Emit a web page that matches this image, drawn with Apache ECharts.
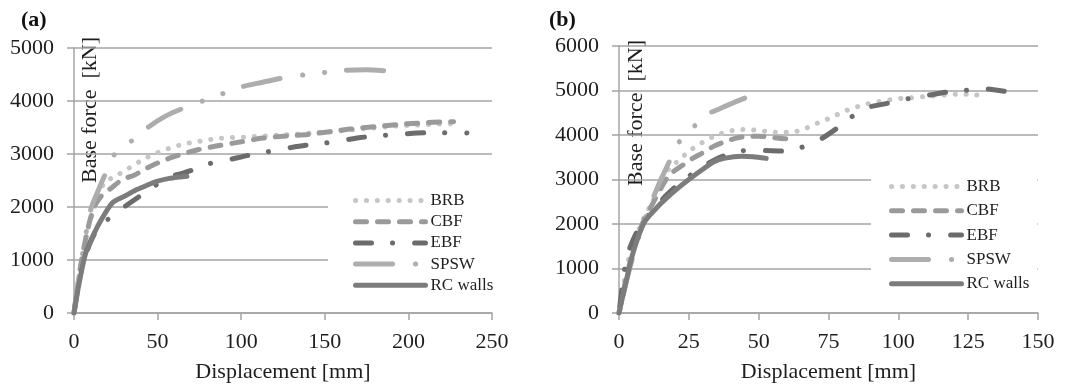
<!DOCTYPE html>
<html><head><meta charset="utf-8">
<script src="https://cdn.jsdelivr.net/npm/echarts@6/dist/echarts.min.js"></script>
<style>html,body{margin:0;padding:0;background:#fff}#c{width:1071px;height:386px}</style>
</head><body><div id="c"></div>
<script>
// ---------- Chart (a) ----------
const seriesNames = ['BRB', 'CBF', 'EBF', 'SPSW', 'RC walls'];
const a_BRB_x = [0,4,8,13,18,25.8,31.2,36.8,42.8,48.8,54.1,60.1,66.3,73.3,79.6,86.6,93.6,99.6,125,150,177,191,205,218,225];
const a_BRB_y = [0,800,1550,2050,2450,2600,2700,2810,2920,3010,3075,3140,3190,3230,3265,3295,3308,3315,3360,3415,3485,3525,3545,3565,3570];
const a_CBF_x = [0,4,8,12,17,22,29,36,44,50,58,66,74,85,100,113,127,140,153,165,180,195,210,220,227];
const a_CBF_y = [0,900,1550,2000,2230,2350,2520,2600,2740,2830,2930,3010,3080,3150,3230,3300,3340,3370,3420,3470,3515,3560,3590,3605,3610];
const a_EBF_x = [0,3,6,10,14,19.3,27.3,37.3,48,56,64.7,69.7,81,93.6,103.6,115.5,127.5,138.5,151,163.4,171.3,186.3,194,210,222,235];
const a_EBF_y = [0,600,1000,1350,1580,1740,1940,2160,2390,2560,2636,2685,2818,2900,2970,3040,3110,3165,3210,3270,3310,3355,3370,3400,3400,3398];
const a_SPSW_x = [0,4,10,15,19,24.4,35,45,55,65,77,89,100,112,124,137,150,161,175,186];
const a_SPSW_y = [0,900,1950,2350,2640,3000,3260,3520,3720,3860,4000,4140,4265,4350,4430,4490,4540,4578,4588,4570];
const a_RC_x = [0,3,7,12,16.3,23,30,37,43,49,57,63,67.5];
const a_RC_y = [0,550,1130,1500,1760,2080,2200,2320,2400,2480,2540,2565,2580];
const a_xTicks = {min:0, max:250, interval:50};
const a_yTicks = {min:0, max:5000, interval:1000};

// ---------- Chart (b) ----------
const b_BRB_x = [0,3,6,9,12,15,18,21.7,24.7,28.2,31.5,35,39,43,47,51,55,59,63,66.5,70,74,77.5,81,85,89,93,97,101,109,121,125,128.5];
const b_BRB_y = [0,1100,1700,2150,2500,2900,3250,3440,3620,3770,3890,4000,4075,4125,4120,4095,4065,4060,4075,4140,4240,4340,4440,4540,4630,4700,4750,4790,4820,4860,4915,4915,4895];
const b_CBF_x = [0,3,6,9,12,15,18,23,26.5,30,34,38,42,46,50,54,58,63];
const b_CBF_y = [0,900,1600,2100,2450,2800,3100,3330,3480,3600,3750,3850,3930,3970,3970,3955,3920,3910];
const b_EBF_x = [0,1.7,3.2,6.2,9,13,17,21,24.7,31,36.6,43.7,51.5,58,65,72,78,83,88,96,104,111,118,125,130,138.5];
const b_EBF_y = [0,860,1345,1800,2080,2380,2650,2880,3060,3330,3510,3647,3650,3640,3715,3900,4150,4395,4600,4710,4820,4895,4970,5007,5045,4975];
const b_SPSW_x = [0,3,6,9,12,15,18,21,26,31,35,40,45];
const b_SPSW_y = [0,800,1500,2050,2550,3000,3400,3800,4130,4450,4560,4700,4830];
const b_RC_x = [0,2.5,5,9,13,17,21,25,30,34,38,44,48,52.7];
const b_RC_y = [0,700,1350,2030,2330,2580,2800,3000,3230,3400,3480,3520,3510,3475];
const b_xTicks = {min:0, max:150, interval:25};
const b_yTicks = {min:0, max:6000, interval:1000};

const FONT = '"Liberation Serif","Times New Roman",serif';
const TXT = '#1e1e1e';
const AXC = '#a4a4a4';
const LW = 5;

const styles = {
  'BRB':      {color:'#c6c6c6', type:[0.1, 10.8]},
  'CBF':      {color:'#9a9a9a', type:[11, 11]},
  'EBF':      {color:'#6c6c6c', type:[16, 21, 0.1, 22]},
  'SPSW':     {color:'#adadad', type:[37, 23, 0.1, 22, 0.1, 22]},
  'RC walls': {color:'#7c7c7c', type:'solid'}
};

function zip(xs, ys){ return xs.map((x,i)=>[x, ys[i]]); }

function mkSeries(name, xs, ys, idx, dashOffset){
  const s = styles[name];
  return {
    name, type:'line', xAxisIndex:idx, yAxisIndex:idx,
    data: zip(xs, ys), symbol:'none', smooth:0.25,
    lineStyle:{color:s.color, width:LW, type:s.type, dashOffset:dashOffset || 0, cap:'round', join:'round'},
    itemStyle:{color:s.color},
    emphasis:{disabled:true}, animation:false
  };
}

function xAx(idx, t){
  return {
    gridIndex:idx, type:'value', min:t.min, max:t.max, interval:t.interval,
    name:'Displacement [mm]', nameLocation:'middle', nameGap:48,
    nameTextStyle:{fontFamily:FONT, fontSize:22, color:TXT},
    axisLine:{show:true, lineStyle:{color:AXC, width:1.5}},
    axisTick:{show:true, length:7, lineStyle:{color:AXC, width:1.5}},
    axisLabel:{fontFamily:FONT, fontSize:22, color:TXT, margin:18, formatter:v=>String(v)},
    splitLine:{show:false}
  };
}
function yAx(idx, t){
  return {
    gridIndex:idx, type:'value', min:t.min, max:t.max, interval:t.interval,
    axisLine:{show:true, lineStyle:{color:AXC, width:1.5}},
    axisTick:{show:true, length:7, lineStyle:{color:AXC, width:1.5}},
    axisLabel:{fontFamily:FONT, fontSize:22, color:TXT, margin:20, formatter:v=>String(v)},
    splitLine:{show:true, lineStyle:{color:AXC, width:1.5}}
  };
}
function legend(left, top, gap, pad){
  return {
    data: seriesNames, orient:'vertical', left, top,
    itemWidth:70, itemHeight:14, itemGap:gap, padding:pad,
    backgroundColor:'#fff', selectedMode:false,
    lineStyle:{width:LW, cap:'round', type:'inherit', dashOffset:0},
    itemStyle:{opacity:0},
    textStyle:{fontFamily:FONT, fontSize:17, lineHeight:17, color:TXT}
  };
}

const chart = echarts.init(document.getElementById('c'), null, {renderer:'canvas'});
chart.setOption({
  animation:false,
  backgroundColor:'#fff',
  grid:[
    {left:74, top:48, width:418, height:265, containLabel:false, outerBoundsMode:'none'},
    {left:619, top:46, width:419, height:267, containLabel:false, outerBoundsMode:'none'}
  ],
  xAxis:[xAx(0, a_xTicks), xAx(1, b_xTicks)],
  yAxis:[yAx(0, a_yTicks), yAx(1, b_yTicks)],
  legend:[
    legend(328, 180, 4.2, [12, 10, 12, 25]),
    legend(871, 172, 7.3, [6, 8, 6, 18])
  ],
  graphic:[
    {type:'text', left:21, top:9, style:{text:'(a)', font:'bold 22px ' + FONT, fill:'#111'}},
    {type:'text', left:549, top:9, style:{text:'(b)', font:'bold 22px ' + FONT, fill:'#111'}},
    {type:'text', x:90, y:110, rotation:Math.PI/2,
      style:{text:'Base force  [kN]', font:'22px ' + FONT, fill:TXT, align:'center', verticalAlign:'middle'}},
    {type:'text', x:636, y:113, rotation:Math.PI/2,
      style:{text:'Base force  [kN]', font:'22px ' + FONT, fill:TXT, align:'center', verticalAlign:'middle'}}
  ],
  series:[
    mkSeries('BRB', a_BRB_x, a_BRB_y, 0),
    mkSeries('CBF', a_CBF_x, a_CBF_y, 0),
    mkSeries('EBF', a_EBF_x, a_EBF_y, 0, 53),
    mkSeries('SPSW', a_SPSW_x, a_SPSW_y, 0),
    mkSeries('RC walls', a_RC_x, a_RC_y, 0),
    mkSeries('BRB', b_BRB_x, b_BRB_y, 1),
    mkSeries('CBF', b_CBF_x, b_CBF_y, 1),
    mkSeries('EBF', b_EBF_x, b_EBF_y, 1, 52),
    mkSeries('SPSW', b_SPSW_x, b_SPSW_y, 1, 86),
    mkSeries('RC walls', b_RC_x, b_RC_y, 1)
  ]
});
</script></body></html>
